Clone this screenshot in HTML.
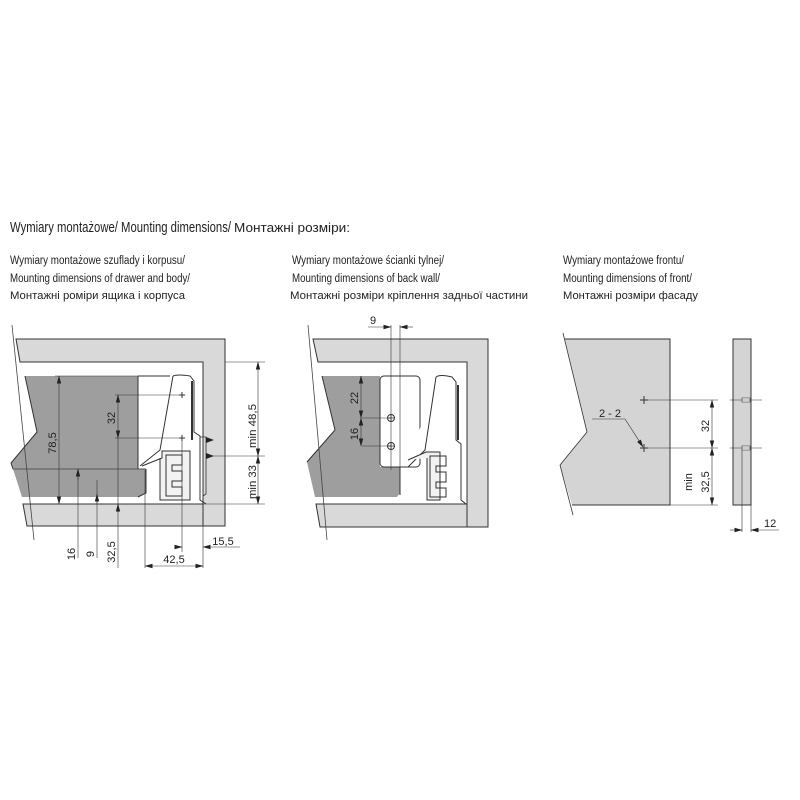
<!DOCTYPE html>
<html><head><meta charset="utf-8"><style>
html,body{margin:0;padding:0;background:#fff;}
svg{display:block;}
text{font-family:"Liberation Sans",sans-serif;fill:#222;}
</style></head><body>
<svg width="800" height="800" viewBox="0 0 800 800" xmlns="http://www.w3.org/2000/svg">
<defs>
<marker id="a" markerWidth="8" markerHeight="6" refX="7.5" refY="3" orient="auto-start-reverse" markerUnits="userSpaceOnUse"><path d="M0,0.8 L8,3 L0,5.2z" fill="#222"/></marker>
</defs>
<!-- titles -->
<text x="10" y="232" font-size="15" textLength="221" lengthAdjust="spacingAndGlyphs">Wymiary montażowe/ Mounting dimensions/</text>
<text x="234" y="232" font-size="13" textLength="116" lengthAdjust="spacingAndGlyphs">Монтажні розміри:</text>
<g font-size="11.5">
<text x="10" y="264" textLength="175" lengthAdjust="spacingAndGlyphs">Wymiary montażowe szuflady i korpusu/</text>
<text x="10" y="282" textLength="180" lengthAdjust="spacingAndGlyphs">Mounting dimensions of drawer and body/</text>
<text x="10" y="299" font-size="11" textLength="175" lengthAdjust="spacingAndGlyphs">Монтажні роміри ящика і корпуса</text>
<text x="292" y="264" textLength="152" lengthAdjust="spacingAndGlyphs">Wymiary montażowe ścianki tylnej/</text>
<text x="292" y="282" textLength="148" lengthAdjust="spacingAndGlyphs">Mounting dimensions of back wall/</text>
<text x="290" y="299" font-size="11" textLength="238" lengthAdjust="spacingAndGlyphs">Монтажні розміри кріплення задньої частини</text>
<text x="563" y="264" textLength="121" lengthAdjust="spacingAndGlyphs">Wymiary montażowe frontu/</text>
<text x="563" y="282" textLength="129" lengthAdjust="spacingAndGlyphs">Mounting dimensions of front/</text>
<text x="563" y="299" font-size="11" textLength="135" lengthAdjust="spacingAndGlyphs">Монтажні розміри фасаду</text>
</g>

<!-- LEFT DIAGRAM -->
<g stroke="#333" stroke-width="1">
<polygon points="16,339 225,339 225,526 203,526 203,362 20,362" fill="#d9d9d9"/>
<polygon points="23,504 203,504 203,526 27,526" fill="#d9d9d9"/>
<polygon points="25,376 138,376 138,469 146,469 146,493 138,497 22,497 13,469 11,463 37,432" fill="#9e9e9e" stroke="none"/>
<path d="M25,376 L37,432 L11,463 L13,469" fill="none"/>
<line x1="13" y1="469" x2="146" y2="469" stroke="#555"/>
<line x1="138" y1="376" x2="138" y2="469"/>
<path d="M146,469 L146,493 L138,497" fill="none"/>
<path d="M138,376 L170,376 M173,376 Q178,374 190,376 L194,381 L194,432 L200,436 L200,500 L206,504" fill="none"/>
<path d="M173,376 L160,450 L150,458 L140,466" fill="none"/>
<path d="M142,466 L162,458 L162,451 L190,451 L190,500 L160,500 L160,458" fill="#f2f2f2"/>
<path d="M166,455 L182,455 L182,465 L172,465 L172,471 L182,471 L182,481 L172,481 L172,487 L182,487 L182,496 L166,496z" fill="none"/>
<line x1="192" y1="381" x2="192" y2="440" stroke-width="2"/>
<path d="M200,437 L206,437 L206,494 L203,496" fill="none" stroke-width="0.8"/>
</g>
<line x1="12" y1="325" x2="34" y2="540" stroke="#444" stroke-width="0.8"/>
<g stroke="#333" stroke-width="0.6" fill="none">
<line x1="225" y1="362" x2="265" y2="362"/>
<line x1="206" y1="456" x2="265" y2="456"/>
<line x1="203" y1="504" x2="265" y2="504"/>
<line x1="258" y1="362" x2="258" y2="456" marker-start="url(#a)" marker-end="url(#a)"/>
<line x1="258" y1="456" x2="258" y2="504" marker-start="url(#a)" marker-end="url(#a)"/>
<line x1="55" y1="376" x2="138" y2="376"/>
<line x1="59" y1="376" x2="59" y2="504" marker-start="url(#a)" marker-end="url(#a)"/>
<line x1="115" y1="395" x2="182" y2="395"/>
<line x1="115" y1="438" x2="182" y2="438"/>
<line x1="118" y1="395" x2="118" y2="438" marker-start="url(#a)" marker-end="url(#a)"/>
<line x1="118" y1="438" x2="118" y2="568"/>
<line x1="118" y1="504" x2="118" y2="512" marker-start="url(#a)"/>
<line x1="78" y1="469" x2="78" y2="558"/>
<line x1="78" y1="469" x2="78" y2="480" marker-start="url(#a)"/>
<line x1="97" y1="480" x2="97" y2="558"/>
<line x1="97" y1="504" x2="97" y2="494" marker-end="url(#a)"/>
<line x1="145" y1="470" x2="145" y2="568"/>
<line x1="182" y1="438" x2="182" y2="552"/>
<line x1="203" y1="526" x2="203" y2="568"/>
<line x1="145" y1="566" x2="203" y2="566" marker-start="url(#a)" marker-end="url(#a)"/>
<line x1="175" y1="547" x2="182" y2="547" marker-end="url(#a)"/>
<line x1="203" y1="547" x2="240" y2="547" marker-start="url(#a)"/>
</g>
<g stroke="#333" stroke-width="1"><path d="M179,395h6M182,392v6M179,438h6M182,435v6"/></g>
<path d="M206,437 L214,440 L206,443z M206,453 L214,456 L206,459z" fill="#222"/>
<g font-size="11">
<text transform="translate(256,426) rotate(-90)" text-anchor="middle" textLength="44" lengthAdjust="spacingAndGlyphs">min 48,5</text>
<text transform="translate(256,482) rotate(-90)" text-anchor="middle" textLength="34" lengthAdjust="spacingAndGlyphs">min 33</text>
<text transform="translate(56,443) rotate(-90)" text-anchor="middle">78,5</text>
<text transform="translate(115,418) rotate(-90)" text-anchor="middle">32</text>
<text transform="translate(75,554) rotate(-90)" text-anchor="middle">16</text>
<text transform="translate(94,554) rotate(-90)" text-anchor="middle">9</text>
<text transform="translate(115,552) rotate(-90)" text-anchor="middle">32,5</text>
<text x="174" y="563" text-anchor="middle">42,5</text>
<text x="223" y="545" text-anchor="middle">15,5</text>
</g>

<!-- MIDDLE DIAGRAM -->
<g stroke="#333" stroke-width="1">
<polygon points="313,339 488,339 488,527 467,527 467,362 318,362" fill="#d9d9d9"/>
<polygon points="316,504 467,504 467,527 320,527" fill="#d9d9d9"/>
<polygon points="322,376 380,376 380,467 400,467 400,493 397,497 315,497 307,462 335,430" fill="#9e9e9e" stroke="none"/>
<path d="M322,376 L335,430 L307,462" fill="none"/>
<rect x="380" y="376" width="40" height="91" rx="4" fill="#fff"/>
<path d="M400,467 L400,495" />
<path d="M436,377 Q440,374 452,377 L456,382 L456,440 L461,444 L461,500 L466,504" fill="#fff"/>
<path d="M436,377 L425,450 L408,467" fill="#fff"/>
<path d="M408,460 L426,452 L440,452 L440,500 L427,500 L427,458" fill="#f2f2f2"/>
<path d="M430,456 L446,456 L446,466 L436,466 L436,472 L446,472 L446,482 L436,482 L436,488 L446,488 L446,497 L430,497z" fill="none"/>
<line x1="458" y1="385" x2="458" y2="440" stroke-width="2"/>
<circle cx="391" cy="418" r="3.5" fill="#fff"/><circle cx="391" cy="446" r="3.5" fill="#fff"/>
<path d="M388,418h6M391,415v6M388,446h6M391,443v6" stroke-width="0.8"/>
</g>
<line x1="308" y1="325" x2="327" y2="540" stroke="#444" stroke-width="0.8"/>
<g stroke="#333" stroke-width="0.6" fill="none">
<line x1="391" y1="325" x2="391" y2="470"/>
<line x1="400" y1="325" x2="400" y2="467"/>
<line x1="368" y1="327" x2="391" y2="327" marker-end="url(#a)"/>
<line x1="400" y1="327" x2="413" y2="327" marker-start="url(#a)"/>
<line x1="362" y1="418" x2="391" y2="418"/>
<line x1="362" y1="446" x2="391" y2="446"/>
<line x1="361" y1="376" x2="361" y2="418" marker-start="url(#a)" marker-end="url(#a)"/>
<line x1="361" y1="418" x2="361" y2="446" marker-start="url(#a)" marker-end="url(#a)"/>
</g>
<g font-size="11">
<text x="373" y="324" text-anchor="middle">9</text>
<text transform="translate(358,398) rotate(-90)" text-anchor="middle">22</text>
<text transform="translate(358,434) rotate(-90)" text-anchor="middle">16</text>
</g>

<!-- RIGHT DIAGRAM -->
<g stroke="#333" stroke-width="1">
<polygon points="565,339 670,339 670,505 572,505 560,465 587,432" fill="#d4d4d4" stroke="none"/>
<path d="M565,339 L670,339 L670,505 L572,505" fill="none"/>
<line x1="563" y1="333" x2="587" y2="432" stroke-width="0.8"/>
<line x1="587" y1="432" x2="560" y2="465" stroke-width="0.8"/>
<line x1="560" y1="465" x2="573" y2="515" stroke-width="0.8"/>
<rect x="733" y="339" width="18" height="166" fill="#d4d4d4"/>
<path d="M640,400h8M644,396v8M640,448h8M644,444v8"/>
<rect x="742" y="398" width="8" height="4" fill="#fff" stroke-width="0.6"/>
<rect x="742" y="446" width="8" height="4" fill="#fff" stroke-width="0.6"/>
</g>
<g stroke="#333" stroke-width="0.6" fill="none">
<line x1="644" y1="400" x2="718" y2="400"/>
<line x1="644" y1="448" x2="718" y2="448"/>
<line x1="670" y1="505" x2="718" y2="505"/>
<line x1="730" y1="400" x2="762" y2="400"/>
<line x1="730" y1="448" x2="762" y2="448"/>
<line x1="712" y1="400" x2="712" y2="448" marker-start="url(#a)" marker-end="url(#a)"/>
<line x1="712" y1="448" x2="712" y2="505" marker-start="url(#a)" marker-end="url(#a)"/>
<line x1="592" y1="419" x2="625" y2="419"/>
<line x1="625" y1="419" x2="643" y2="447" marker-end="url(#a)"/>
<line x1="742" y1="450" x2="742" y2="532"/>
<line x1="751" y1="505" x2="751" y2="532"/>
<line x1="730" y1="530" x2="742" y2="530" marker-end="url(#a)"/>
<line x1="751" y1="530" x2="779" y2="530" marker-start="url(#a)"/>
</g>
<g font-size="11">
<text x="599" y="417">2 - 2</text>
<text transform="translate(709,426) rotate(-90)" text-anchor="middle">32</text>
<text transform="translate(692,482) rotate(-90)" text-anchor="middle">min</text>
<text transform="translate(709,482) rotate(-90)" text-anchor="middle">32,5</text>
<text x="764" y="527">12</text>
</g>
</svg>
</body></html>
